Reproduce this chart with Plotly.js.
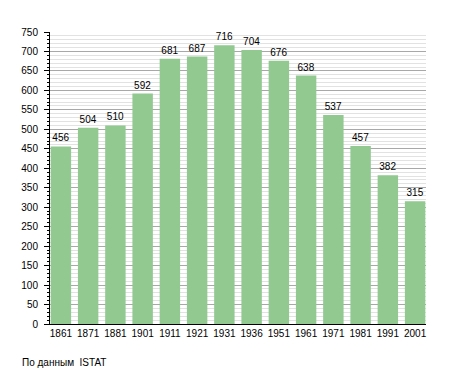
<!DOCTYPE html>
<html>
<head>
<meta charset="utf-8">
<script src="https://cdn.plot.ly/plotly-3.0.1.min.js"></script>
<style>html,body{margin:0;padding:0;background:#fff;}#chart{width:455px;height:373px;}</style>
</head>
<body>
<div id="chart"></div>
<script>
const years = ['1861','1871','1881','1901','1911','1921','1931','1936','1951','1961','1971','1981','1991','2001'];
const population = [456,504,510,592,681,687,716,704,676,638,537,457,382,315];
const yTicks = [0,50,100,150,200,250,300,350,400,450,500,550,600,650,700,750];
const sourceNote = 'По данным  ISTAT';

const font = {family: '"Liberation Sans", Arial, Helvetica, sans-serif', size: 10, color: '#000'};

Plotly.newPlot('chart', [{
  type: 'bar',
  x: years,
  y: population,
  text: population.map(String),
  textposition: 'outside',
  cliponaxis: false,
  textfont: font,
  marker: {color: '#91c991', line: {width: 0}},
  hoverinfo: 'x+y'
}], {
  width: 455, height: 373,
  margin: {l: 50, r: 29, t: 32, b: 49},
  paper_bgcolor: '#fff', plot_bgcolor: '#fff',
  font: font,
  bargap: 0.25,
  showlegend: false,
  xaxis: {
    type: 'category',
    range: [-0.4, 13.4],
    showline: true, linecolor: '#000', linewidth: 1,
    ticks: '', showgrid: false, zeroline: false,
    tickfont: font, fixedrange: true
  },
  yaxis: {
    range: [0, 750],
    tickvals: yTicks,
    ticktext: yTicks.map(String),
    showline: true, linecolor: '#000', linewidth: 1,
    ticks: 'outside', ticklen: 5, tickcolor: '#000', tickwidth: 1,
    showgrid: true, gridcolor: '#a8a8a8', gridwidth: 1,
    zeroline: false,
    ticklabelstandoff: 4,
    minor: {dtick: 10, tick0: 0, ticks: 'outside', ticklen: 2.5, tickcolor: '#000', showgrid: true, gridcolor: '#e2e2e2', gridwidth: 1},
    tickfont: font, fixedrange: true
  },
  annotations: [{
    text: sourceNote,
    xref: 'paper', yref: 'paper',
    x: -30/376, y: -38/292,
    xanchor: 'left', yanchor: 'middle',
    showarrow: false,
    font: font
  }]
}, {displayModeBar: false, staticPlot: true});
</script>
</body>
</html>
